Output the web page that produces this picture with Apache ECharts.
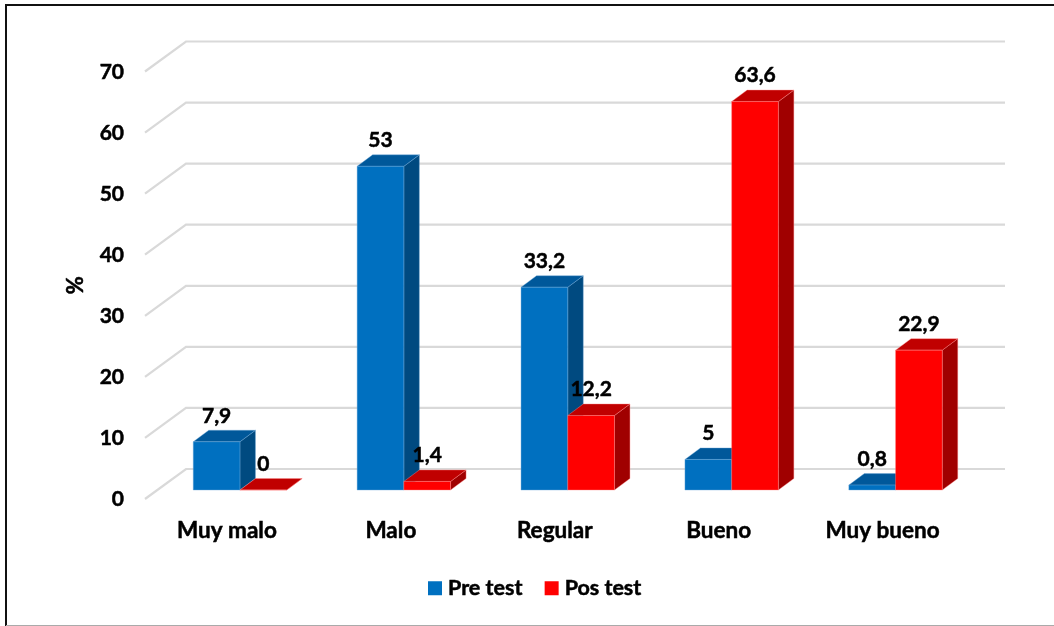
<!DOCTYPE html>
<html><head><meta charset="utf-8">
<style>html,body{margin:0;padding:0;background:#fff}#c{width:1054px;height:626px}</style>
<script src="https://cdn.jsdelivr.net/npm/echarts@6/dist/echarts.min.js"></script>
</head><body><div id="c"></div>
<script>
const categories = ['Muy malo','Malo','Regular','Bueno','Muy bueno'];
const preTest = [7.9,53,33.2,5,0.8];
const posTest = [0,1.4,12.2,63.6,22.9];
const yTicks = [0,10,20,30,40,50,60,70];
const FONT = 'Lato';
const fmt = v => String(v).replace('.',',');
const heavy = {textBorderColor:'#000',textBorderWidth:0.5};

const shade = {
  pre:{front:'#0070C0',top:'#00589A',side:'#004A80',edge:'#6FA8D8'},
  pos:{front:'#FF0000',top:'#C00000',side:'#A00000',edge:'#FF8A8A'}
};
const DX=15.5, DY=-11.5, BAND=0.285;

function barRender(pal, dir){
  return function(params, api){
    const cat=api.value(0), val=api.value(1);
    const p=api.coord([cat,val]), b=api.coord([cat,0]);
    const w=api.size([1,0])[0]*BAND;
    const x0=dir<0?p[0]-w:p[0], x1=x0+w, yt=p[1], yb=b[1];
    const poly=(pts,fill)=>({type:'polygon',shape:{points:pts},style:{fill,stroke:pal.edge,lineWidth:0.4}});
    return {type:'group',children:[
      poly([[x1,yb],[x1+DX,yb+DY],[x1+DX,yt+DY],[x1,yt]],pal.side),
      poly([[x0,yt],[x0+DX,yt+DY],[x1+DX,yt+DY],[x1,yt]],pal.top),
      poly([[x0,yt],[x1,yt],[x1,yb],[x0,yb]],pal.front),
      {type:'text',z2:10,style:{text:fmt(val),x:(x0+x1)/2,y:yt-26,align:'center',verticalAlign:'middle',
        font:'700 21px '+FONT,fill:'#000',stroke:'#000',lineWidth:0.5}}
    ]};
  };
}
function wallRender(params, api){
  const g=api.coord([0,api.value(0)]);
  const r=api.coord([categories.length-1,api.value(0)]);
  const half=api.size([1,0])[0]/2;
  const bx=g[0]-half+28, by=g[1]-21, fx=g[0]-half-13, fy=g[1]+9, ex=r[0]+half+27.5;
  return {type:'polyline',shape:{points:[[fx,fy],[bx,by],[ex,by]]},
    style:{fill:null,stroke:'#D9D9D9',lineWidth:2.2}};
}

const chart=echarts.init(document.getElementById('c'));
chart.setOption({
  animation:false,
  backgroundColor:'#fff',
  graphic:[{type:'polyline',silent:true,shape:{points:[[6,626],[6,5],[1054,5]]},style:{fill:null,stroke:'#111',lineWidth:2}},
           {type:'line',silent:true,shape:{x1:6,y1:625.5,x2:1054,y2:625.5},style:{stroke:'#AAA',lineWidth:1}}],
  legend:{left:428,top:577,padding:0,itemWidth:14,itemHeight:14,itemGap:22,icon:'rect',
    textStyle:{fontFamily:FONT,fontWeight:700,fontSize:21.5,color:'#000',padding:[0,0,0,1],...heavy},
    data:[{name:'Pre test',itemStyle:{color:shade.pre.front}},{name:'Pos test',itemStyle:{color:shade.pos.front}}]},
  grid:{left:158,right:76.5,top:62.5,bottom:136},
  xAxis:{type:'category',data:categories,axisLine:{show:false},axisTick:{show:false},splitLine:{show:false},
    axisLabel:{margin:29,padding:[0,26,0,0],interval:0,fontFamily:FONT,fontWeight:700,fontSize:22.5,color:'#000',...heavy}},
  yAxis:{type:'value',min:0,max:70,interval:10,name:'%',nameLocation:'middle',nameGap:71,
    nameTextStyle:{fontFamily:FONT,fontWeight:700,fontSize:22,color:'#000',padding:[0,18,0,0],...heavy},
    axisLine:{show:false},axisTick:{show:false},splitLine:{show:false},
    axisLabel:{margin:34,verticalAlign:'top',lineHeight:19,fontFamily:FONT,fontWeight:700,fontSize:21,color:'#000',...heavy}},
  series:[
    {type:'custom',name:'walls',silent:true,z:1,renderItem:wallRender,data:yTicks.map(v=>[v]),encode:{y:0},legendHoverLink:false},
    {type:'custom',name:'Pre test',z:3,renderItem:barRender(shade.pre,-1),itemStyle:{color:shade.pre.front},
      data:preTest.map((v,i)=>[i,v]),encode:{x:0,y:1}},
    {type:'custom',name:'Pos test',z:4,renderItem:barRender(shade.pos,1),itemStyle:{color:shade.pos.front},
      data:posTest.map((v,i)=>[i,v]),encode:{x:0,y:1}}
  ]
});
</script></body></html>
